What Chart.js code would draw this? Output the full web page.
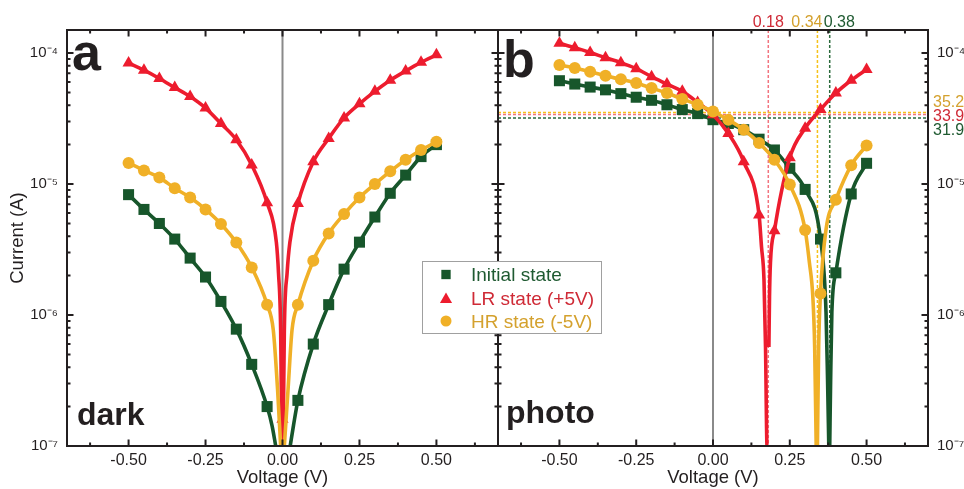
<!DOCTYPE html>
<html><head><meta charset="utf-8">
<script src="https://cdn.jsdelivr.net/npm/chart.js@4.4.1/dist/chart.umd.min.js"></script>
<style>
html,body{margin:0;padding:0;background:#fff;}
#wrap{position:relative;width:964px;height:489px;overflow:hidden;}
canvas{position:absolute;left:0;top:0;}
</style>
</head><body>
<div id="wrap"><canvas id="c1" width="964" height="489"></canvas><canvas id="c2" width="964" height="489"></canvas></div>
<script>
// ---------------- data ----------------
const voltage = [-0.50,-0.45,-0.40,-0.35,-0.30,-0.25,-0.20,-0.15,-0.10,-0.05,0.00,0.05,0.10,0.15,0.20,0.25,0.30,0.35,0.40,0.45,0.50];

// dark (panel a), current in A
const darkInitial = [8.3e-6,6.4e-6,5.0e-6,3.8e-6,2.72e-6,1.95e-6,1.27e-6,7.8e-7,4.2e-7,2.0e-7,null,2.23e-7,6.0e-7,1.2e-6,2.24e-6,3.6e-6,5.6e-6,8.5e-6,1.17e-5,1.62e-5,2.0e-5];
const darkLR      = [8.4e-5,7.4e-5,6.4e-5,5.45e-5,4.65e-5,3.8e-5,2.9e-5,2.18e-5,1.4e-5,7.2e-6,1.6e-7,7.1e-6,1.48e-5,2.23e-5,3.2e-5,4.1e-5,5.1e-5,6.2e-5,7.3e-5,8.5e-5,9.7e-5];
const darkHR      = [1.45e-5,1.27e-5,1.12e-5,9.3e-6,7.9e-6,6.4e-6,4.96e-6,3.58e-6,2.31e-6,1.2e-6,null,1.2e-6,2.6e-6,4.2e-6,5.9e-6,7.9e-6,1.0e-5,1.25e-5,1.53e-5,1.82e-5,2.1e-5];

// photo (panel b)
const photoInitial = [6.15e-5,5.8e-5,5.5e-5,5.24e-5,4.9e-5,4.6e-5,4.36e-5,4.03e-5,3.7e-5,3.45e-5,3.1e-5,2.9e-5,2.6e-5,2.2e-5,1.82e-5,1.32e-5,9.1e-6,3.8e-6,2.1e-6,8.4e-6,1.44e-5];
const photoLR      = [1.19e-4,1.1e-4,1.01e-4,9.2e-5,8.45e-5,7.6e-5,6.6e-5,5.8e-5,5.1e-5,4.2e-5,3.38e-5,2.43e-5,1.48e-5,5.8e-6,4.4e-6,1.59e-5,2.67e-5,3.7e-5,4.95e-5,6.2e-5,7.5e-5];
const photoHR      = [8.1e-5,7.7e-5,7.2e-5,6.7e-5,6.3e-5,5.9e-5,5.4e-5,4.95e-5,4.46e-5,4.03e-5,3.58e-5,3.09e-5,2.6e-5,2.06e-5,1.53e-5,9.9e-6,4.46e-6,1.46e-6,7.6e-6,1.39e-5,1.97e-5];

// points read along the fitted curves close to their zero crossings (line only)
const darkInitialDipV = [-0.034,-0.022,0.025,0.036];
const darkInitialDipI = [1.43e-7,1.0e-7,1.0e-7,1.45e-7];
const darkLRDipV = [-0.020,-0.013,-0.006,-0.002,0.002,0.006,0.015,0.024];
const darkLRDipI = [3.6e-6,2.1e-6,7.7e-7,1.0e-7,1.0e-7,7.7e-7,2.1e-6,3.6e-6];
const darkHRDipV = [-0.030,-0.016,-0.006,0.006,0.018,0.031];
const darkHRDipI = [7.7e-7,2.7e-7,1.0e-7,1.0e-7,2.7e-7,7.7e-7];
const photoInitialDipV = [0.368,0.373,0.377,0.380,0.383,0.387];
const photoInitialDipI = [1.05e-6,3.2e-7,1.0e-7,1.0e-7,3.2e-7,1.05e-6];
const photoLRDipV = [0.158,0.166,0.171,0.176,0.179,0.182,0.184,0.187];
const photoLRDipI = [3.3e-6,1.86e-6,5.7e-7,1.0e-7,1.0e-7,5.7e-7,1.38e-6,2.5e-6];
const photoHRDipV = [0.314,0.325,0.331,0.336,0.340,0.344,0.368];
const photoHRDipI = [2.5e-6,1.38e-6,5.7e-7,1.0e-7,1.0e-7,5.7e-7,4.5e-6];

// zero crossings (Initial, LR, HR) and photo intercepts at 0 V (µA)
const darkZero = [0, 0, 0];
const photoZero = [0.38, 0.18, 0.34];
const photoZeroLabels = ['0.38', '0.18', '0.34'];
const photoIntercept = [31.9, 33.9, 35.2];
const photoInterceptLabels = ['31.9', '33.9', '35.2'];

const seriesNames = ['Initial state', 'LR state (+5V)', 'HR state (-5V)'];

// ticks
const xMajorTicks = [-0.50,-0.25,0.00,0.25,0.50];
const xTickLabels = ['-0.50','-0.25','0.00','0.25','0.50'];
const xMinorTicks = [-0.625,-0.375,-0.125,0.125,0.375,0.625];
const yTickValues = [1e-7,1e-6,1e-5,1e-4];
const yTickLabels = ['10\u207B\u2077','10\u207B\u2076','10\u207B\u2075','10\u207B\u2074'];
const yMinorMantissas = [2,3,4,5,6,7,8,9];

// ---------------- styles ----------------
const FONT = "'Liberation Sans', Arial, Helvetica, sans-serif";
const INK = '#231f20';
const seriesColors = ['#17562b', '#ed1c2e', '#f0b027'];
const textColors = ['#1f5a31', '#cf2a36', '#d4a12e'];
const dashColors = ['#2b6a3c', '#f2747f', '#f6c21a'];
const pointStyles = ['rect', 'triangle', 'circle'];
const pointRadii = [7.8, 7, 6];

Chart.defaults.font.family = FONT;
Chart.defaults.color = INK;

function markerPoints(values) {
  return voltage.map((v, i) => ({x: v, y: values[i]})).filter(p => p.y != null);
}
function curvePoints(values, dipV, dipI, zero) {
  const pts = [];
  voltage.forEach((v, i) => { if (values[i] != null && Math.abs(v - zero) > 1e-9) pts.push({x: v, y: values[i]}); });
  dipV.forEach((v, i) => pts.push({x: v, y: dipI[i]}));
  pts.push({x: zero, y: null});
  // the gap goes before any point sharing its voltage, so that point starts the right branch
  pts.sort((a, b) => (a.x - b.x) || ((a.y === null) ? -1 : (b.y === null ? 1 : 0)));
  return pts;
}
function buildDatasets(series, dips, zeros) {
  const ds = [];
  // drawing order: first dataset on top -> HR, LR, Initial
  [2, 1, 0].forEach(k => {
    ds.push({data: markerPoints(series[k]), showLine: false, pointStyle: pointStyles[k], pointRadius: pointRadii[k],
      pointBackgroundColor: seriesColors[k], pointBorderWidth: 0, pointHoverRadius: pointRadii[k]});
    ds.push({data: curvePoints(series[k], dips[k][0], dips[k][1], zeros[k]), showLine: true, pointRadius: 0,
      borderColor: seriesColors[k], borderWidth: 3.6, cubicInterpolationMode: 'monotone', spanGaps: false});
  });
  return ds;
}

function xLabel(v) {
  const i = xMajorTicks.findIndex(t => Math.abs(t - v) < 1e-9);
  return i >= 0 ? xTickLabels[i] : '';
}
function yLabel(v) {
  const i = yTickValues.findIndex(t => Math.abs(t - v) / t < 1e-6);
  return i >= 0 ? yTickLabels[i] : '';
}

function frameDecor(chart) {
  const {ctx, chartArea: a, scales: {x, y}} = chart;
  ctx.save();
  ctx.strokeStyle = INK;
  ctx.lineWidth = 2;
  ctx.beginPath();
  const tx = (v, len) => { const p = x.getPixelForValue(v); ctx.moveTo(p, a.top); ctx.lineTo(p, a.top + len); ctx.moveTo(p, a.bottom); ctx.lineTo(p, a.bottom - len); };
  const ty = (v, len) => { const p = y.getPixelForValue(v); ctx.moveTo(a.left, p); ctx.lineTo(a.left + len, p); ctx.moveTo(a.right, p); ctx.lineTo(a.right - len, p); };
  xMajorTicks.forEach(v => tx(v, 6.5));
  xMinorTicks.forEach(v => tx(v, 3.5));
  yTickValues.forEach(v => ty(v, 6.5));
  yTickValues.forEach(d => yMinorMantissas.forEach(m => { const v = d * m; if (v < y.max) ty(v, 3.5); }));
  ctx.stroke();
  ctx.strokeRect(a.left, a.top, a.right - a.left, a.bottom - a.top);
  ctx.restore();
}
function zeroLine(chart) {
  const {ctx, chartArea: a, scales: {x}} = chart;
  const p = x.getPixelForValue(0);
  ctx.save();
  ctx.strokeStyle = '#8a8a8a'; ctx.lineWidth = 2;
  ctx.beginPath(); ctx.moveTo(p, a.top); ctx.lineTo(p, a.bottom); ctx.stroke();
  ctx.restore();
}

function baseOptions(padding, yPos, yWidth, showYTitle) {
  return {
    responsive: false, animation: false, devicePixelRatio: 1, events: [],
    layout: {padding: padding},
    plugins: {legend: {display: false}, tooltip: {enabled: false}},
    scales: {
      x: {type: 'linear', min: -0.7, max: 0.7,
        afterBuildTicks: s => { s.ticks = xMajorTicks.concat(xMinorTicks).sort((a, b) => a - b).map(v => ({value: v})); },
        afterFit: s => { s.height = 43; },
        ticks: {autoSkip: false, maxRotation: 0, padding: 5, font: {size: 16}, color: INK, callback: v => xLabel(v)},
        grid: {display: false, drawTicks: false}, border: {display: false},
        title: {display: true, text: 'Voltage (V)', color: INK, font: {size: 18.5}, padding: {top: 0, bottom: 0}}
      },
      y: {type: 'logarithmic', min: 1e-7, max: 1.5e-4, position: yPos,
        afterBuildTicks: s => { s.ticks = yTickValues.map(v => ({value: v, major: true})); },
        afterFit: s => { s.width = yWidth; },
        ticks: {autoSkip: false, padding: 9, font: {size: 15}, color: INK, callback: v => yLabel(v)},
        grid: {display: false, drawTicks: false}, border: {display: false},
        title: {display: showYTitle, text: 'Current (A)', color: INK, font: {size: 18.5}, padding: {top: 7, bottom: 0}}
      }
    }
  };
}

// ---------------- panel a (dark) ----------------
const darkPlugin = {
  id: 'darkDecor',
  beforeDatasetsDraw: c => zeroLine(c),
  afterDatasetsDraw: c => frameDecor(c),
  afterDraw: c => {
    const ctx = c.ctx, a = c.chartArea;
    ctx.save();
    ctx.fillStyle = INK;
    ctx.font = "bold 52px " + FONT; ctx.textBaseline = 'alphabetic'; ctx.textAlign = 'left';
    ctx.fillText('a', a.left + 5, 70);
    ctx.font = "bold 32px " + FONT;
    ctx.fillText('dark', a.left + 10, 425);
    ctx.restore();
  }
};
new Chart(document.getElementById('c1'), {
  type: 'scatter',
  data: {datasets: buildDatasets([darkInitial, darkLR, darkHR],
    [[darkInitialDipV, darkInitialDipI], [darkLRDipV, darkLRDipI], [darkHRDipV, darkHRDipI]], darkZero)},
  options: baseOptions({left: 0, right: 466, top: 30, bottom: 0}, 'left', 67, true),
  plugins: [darkPlugin]
});

// ---------------- panel b (photo) ----------------
const photoPlugin = {
  id: 'photoDecor',
  beforeDatasetsDraw: c => {
    const {ctx, chartArea: a, scales: {x, y}} = c;
    zeroLine(c);
    ctx.save();
    ctx.lineWidth = 1.5; ctx.setLineDash([3, 2]);
    [0, 1, 2].forEach(k => {
      ctx.strokeStyle = dashColors[k];
      const px = x.getPixelForValue(photoZero[k]);
      ctx.beginPath(); ctx.moveTo(px, a.top); ctx.lineTo(px, a.bottom); ctx.stroke();
    });
    [0, 1, 2].forEach(k => {
      ctx.strokeStyle = dashColors[k];
      const py = y.getPixelForValue(photoIntercept[k] * 1e-6);
      ctx.beginPath(); ctx.moveTo(a.left, py); ctx.lineTo(a.right, py); ctx.stroke();
    });
    ctx.restore();
  },
  afterDatasetsDraw: c => frameDecor(c),
  afterDraw: c => {
    const {ctx, chartArea: a, scales: {x, y}} = c;
    ctx.save();
    ctx.fillStyle = INK;
    ctx.font = "bold 52px " + FONT; ctx.textBaseline = 'alphabetic'; ctx.textAlign = 'left';
    ctx.fillText('b', a.left + 5, 77);
    ctx.font = "bold 32px " + FONT;
    ctx.fillText('photo', a.left + 8, 423);
    // zero-crossing labels above the frame
    ctx.font = "16px " + FONT;
    const aligns = ['left', 'center', 'right'];
    const offs = [-6, 0, 5];
    [0, 1, 2].forEach(k => {
      ctx.fillStyle = textColors[k]; ctx.textAlign = aligns[k];
      ctx.fillText(photoZeroLabels[k], x.getPixelForValue(photoZero[k]) + offs[k], 27);
    });
    // intercept labels right of the frame
    const bases = [134.5, 120.5, 106.5];
    ctx.textAlign = 'left';
    [0, 1, 2].forEach(k => {
      ctx.fillStyle = textColors[k];
      ctx.fillText(photoInterceptLabels[k], a.right + 5, bases[k]);
    });
    // legend
    ctx.fillStyle = '#ffffff'; ctx.strokeStyle = '#a0a0a0'; ctx.lineWidth = 1;
    ctx.fillRect(422, 261, 180, 73); ctx.strokeRect(422.5, 261.5, 179, 72);
    const rows = [274.5, 298, 321];
    const legRadii = [6.6, 7, 5.5];
    ctx.font = "19px " + FONT;
    [0, 1, 2].forEach(k => {
      ctx.fillStyle = seriesColors[k];
      Chart.helpers.drawPoint(ctx, {pointStyle: pointStyles[k], radius: legRadii[k], rotation: 0, borderWidth: 0},
        446, rows[k] + (k === 1 ? 1.5 : 0));
      ctx.fillStyle = textColors[k];
      ctx.fillText(seriesNames[k], 471, rows[k] + 6.8);
    });
    ctx.restore();
  }
};
new Chart(document.getElementById('c2'), {
  type: 'scatter',
  data: {datasets: buildDatasets([photoInitial, photoLR, photoHR],
    [[photoInitialDipV, photoInitialDipI], [photoLRDipV, photoLRDipI], [photoHRDipV, photoHRDipI]], photoZero)},
  options: baseOptions({left: 498, right: 0, top: 30, bottom: 0}, 'right', 36, false),
  plugins: [photoPlugin]
});
</script>
</body></html>
